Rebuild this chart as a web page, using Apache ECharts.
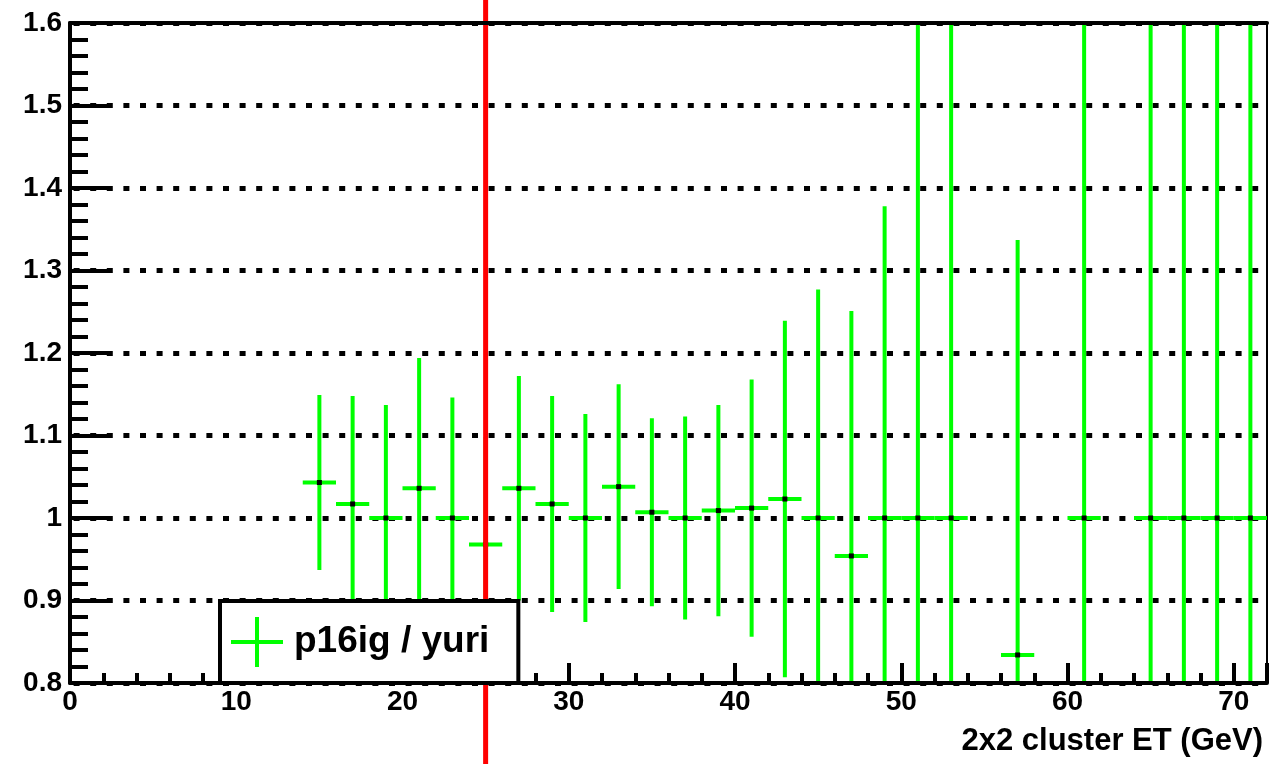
<!DOCTYPE html>
<html>
<head>
<meta charset="utf-8">
<script src="https://cdn.jsdelivr.net/npm/echarts@6/dist/echarts.min.js"></script>
<style>
html,body{margin:0;padding:0;background:#fff;}
#chart{width:1272px;height:764px;}
</style>
</head>
<body>
<div id="chart"></div>
<script>
// ---- data ----
const seriesName = 'p16ig / yuri';
const xAxisTitle = '2x2 cluster ET (GeV)';
const binCenters = [15, 17, 19, 21, 23, 25, 27, 29, 31, 33, 35, 37, 39, 41, 43, 45, 47, 49, 51, 53, 57, 61, 65, 67, 69, 71];
const ratio      = [1.043, 1.017, 1.000, 1.036, 1.000, 0.968, 1.036, 1.017, 1.000, 1.038, 1.007, 1.000, 1.009, 1.012, 1.023, 1.000, 0.954, 1.000, 1.000, 1.000, 0.834, 1.000, 1.000, 1.000, 1.000, 1.000];
const ratioErr   = [0.106, 0.131, 0.137, 0.158, 0.146, 0.130, 0.136, 0.131, 0.126, 0.124, 0.114, 0.123, 0.128, 0.156, 0.216, 0.277, 0.297, 0.378, 1.414, 1.414, 0.503, 1.414, 1.414, 1.414, 1.414, 1.414];
const binWidth = 2;
const cutLineX = [25];
const xRange = [0, 72];
const yRange = [0.8, 1.6];
const xMajorStep = 10;
const xMinorStep = 2;
const yStep = 0.1;

const FONT = '"Liberation Sans", Arial, Helvetica, sans-serif';
const GREEN = '#00ff00';

const points = binCenters.map((x, i) => [x, ratio[i], ratioErr[i]]);

const chart = echarts.init(document.getElementById('chart'), null, {renderer: 'canvas'});

chart.setOption({
  animation: false,
  backgroundColor: '#ffffff',
  grid: {
    left: 70, right: 5, top: 23, bottom: 81,
    show: true, borderColor: '#000', borderWidth: 2, backgroundColor: 'transparent'
  },
  legend: {
    data: [seriesName],
    left: 220, top: 601,
    z: 10,
    selectedMode: false,
    orient: 'horizontal',
    backgroundColor: '#ffffff',
    borderColor: '#000000',
    borderWidth: 4,
    borderRadius: 0,
    padding: [16, 29, 16, 11],
    itemWidth: 52,
    itemHeight: 50,
    icon: 'path://M0,23H52V27H0Z M24,0H28V50H24Z',
    itemStyle: {color: GREEN},
    textStyle: {fontFamily: FONT, fontWeight: 'bold', fontSize: 37, color: '#000', padding: [0, 0, 0, 6]}
  },
  xAxis: [
    {
      type: 'value', position: 'bottom', min: xRange[0], max: xRange[1], interval: xMajorStep, z: 5,
      axisLine: {show: true, onZero: false, lineStyle: {color: '#000', width: 4}},
      axisTick: {show: true, inside: true, length: 20, lineStyle: {color: '#000', width: 4}},
      axisLabel: {
        show: true, margin: 5, color: '#000', fontFamily: FONT, fontWeight: 'bold', fontSize: 28,
        formatter: v => (v > 70 ? '' : String(v))
      },
      splitLine: {show: false},
      name: xAxisTitle,
      nameLocation: 'end',
      nameGap: 0,
      nameTextStyle: {
        fontFamily: FONT, fontWeight: 'bold', fontSize: 31, color: '#000',
        align: 'right', verticalAlign: 'top', padding: [43, 4, 0, 0]
      }
    },
    {
      type: 'value', position: 'bottom', min: xRange[0], max: xRange[1], interval: xMinorStep, z: 5,
      axisLine: {show: false, onZero: false},
      axisTick: {show: true, inside: true, length: 10, lineStyle: {color: '#000', width: 4}},
      axisLabel: {show: false},
      splitLine: {show: false}
    },
    {
      type: 'value', position: 'top', min: xRange[0], max: xRange[1], interval: xMajorStep, z: 5,
      axisLine: {show: true, onZero: false, lineStyle: {color: '#000', width: 4}},
      axisTick: {show: false},
      axisLabel: {show: false},
      splitLine: {show: false}
    }
  ],
  yAxis: {
    type: 'value', min: yRange[0], max: yRange[1], interval: yStep,
    axisLine: {show: true, onZero: false, lineStyle: {color: '#000', width: 4}},
    axisTick: {show: true, inside: true, length: 40, lineStyle: {color: '#000', width: 4}},
    minorTick: {show: true, splitNumber: 5, length: 18, lineStyle: {color: '#000', width: 4}},
    axisLabel: {show: true, margin: 8, color: '#000', fontFamily: FONT, fontWeight: 'bold', fontSize: 28},
    splitLine: {show: true, lineStyle: {color: '#000', width: 5, type: [6, 10.6], dashOffset: 13}}
  },
  series: [
    {
      name: seriesName,
      type: 'custom',
      xAxisIndex: 0, yAxisIndex: 0,
      clip: true,
      z: 2,
      itemStyle: {color: GREEN},
      data: points,
      renderItem: function (params, api) {
        const x = api.value(0), v = api.value(1), e = api.value(2);
        const c = api.coord([x, v]);
        const lo = api.coord([x, v - e]);
        const hi = api.coord([x, v + e]);
        const l = api.coord([x - binWidth / 2, v]);
        const r = api.coord([x + binWidth / 2, v]);
        return {
          type: 'group',
          children: [
            {type: 'line', shape: {x1: c[0], y1: lo[1], x2: c[0], y2: hi[1]}, style: {stroke: GREEN, lineWidth: 4}},
            {type: 'line', shape: {x1: l[0], y1: c[1], x2: r[0], y2: c[1]}, style: {stroke: GREEN, lineWidth: 4}},
            {type: 'rect', shape: {x: c[0] - 2.5, y: c[1] - 2.5, width: 5, height: 5}, style: {fill: '#000'}}
          ]
        };
      }
    },
    {
      name: 'cut',
      type: 'custom',
      xAxisIndex: 0, yAxisIndex: 0,
      clip: false,
      z: 3,
      silent: true,
      data: cutLineX.map(x => [x, yRange[0]]),
      renderItem: function (params, api) {
        const px = api.coord([api.value(0), api.value(1)])[0];
        return {type: 'line', shape: {x1: px, y1: 0, x2: px, y2: api.getHeight()}, style: {stroke: '#ff0000', lineWidth: 5}};
      }
    }
  ]
});
</script>
</body>
</html>
